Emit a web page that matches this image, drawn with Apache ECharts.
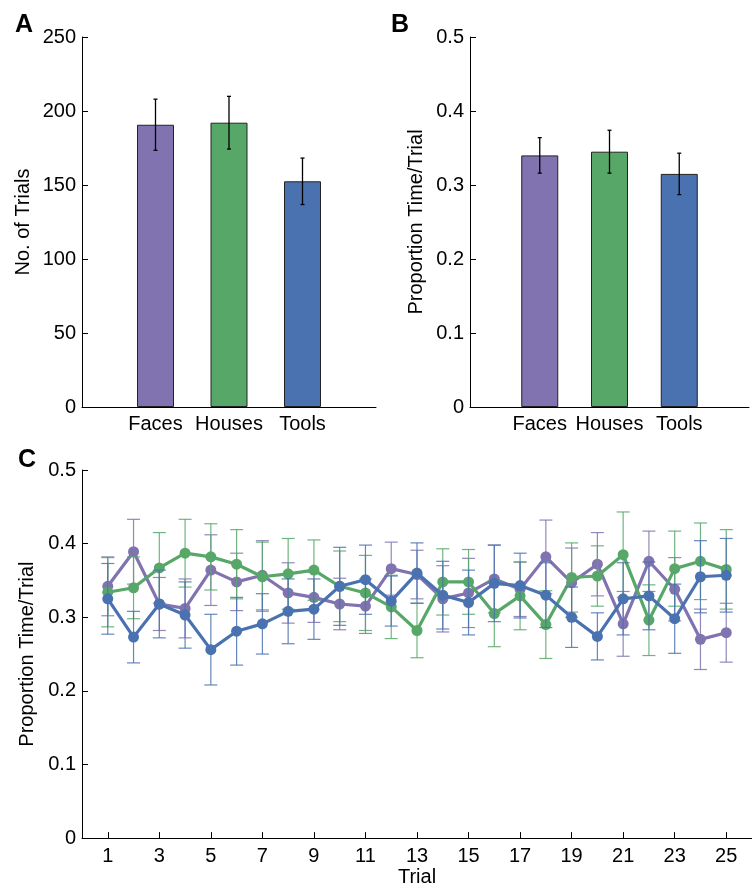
<!DOCTYPE html>
<html>
<head>
<meta charset="utf-8">
<script src="https://cdn.jsdelivr.net/npm/echarts@6/dist/echarts.min.js"></script>
<style>
  html, body { margin: 0; padding: 0; background: #fff; }
  #chart { width: 752px; height: 888px; }
</style>
</head>
<body>
<div id="chart"></div>
<script>
// categories
const categories = ['Faces', 'Houses', 'Tools'];
const catColors = ['#8073af', '#57a868', '#4a72b0'];

// panel A: number of trials
const countMean = [190.7, 192.1, 152.5];
const countErr = [17.3, 17.8, 15.7];

// panel B: proportion time/trial
const propMean = [0.340, 0.345, 0.315];
const propErr = [0.024, 0.029, 0.028];

// panel C: per trial
const trials = [1, 2, 3, 4, 5, 6, 7, 8, 9, 10, 11, 12, 13, 14, 15, 16, 17, 18, 19, 20, 21, 22, 23, 24, 25];
const facesMean = [0.342, 0.389, 0.318, 0.312, 0.364, 0.348, 0.357, 0.333, 0.327, 0.318, 0.315, 0.366, 0.358, 0.325, 0.333, 0.352, 0.338, 0.382, 0.347, 0.372, 0.291, 0.376, 0.338, 0.270, 0.279];
const facesErr = [0.040, 0.044, 0.036, 0.040, 0.048, 0.039, 0.047, 0.041, 0.034, 0.035, 0.037, 0.036, 0.033, 0.045, 0.047, 0.046, 0.037, 0.050, 0.047, 0.043, 0.044, 0.041, 0.043, 0.041, 0.040];
const housesMean = [0.334, 0.340, 0.367, 0.387, 0.382, 0.372, 0.355, 0.359, 0.364, 0.342, 0.333, 0.314, 0.282, 0.348, 0.348, 0.305, 0.329, 0.290, 0.354, 0.356, 0.385, 0.296, 0.366, 0.376, 0.365];
const housesErr = [0.047, 0.042, 0.048, 0.046, 0.045, 0.047, 0.047, 0.048, 0.041, 0.048, 0.051, 0.043, 0.037, 0.045, 0.044, 0.045, 0.046, 0.046, 0.047, 0.041, 0.058, 0.048, 0.051, 0.052, 0.054];
const toolsMean = [0.325, 0.273, 0.318, 0.303, 0.256, 0.281, 0.291, 0.308, 0.311, 0.342, 0.351, 0.322, 0.360, 0.330, 0.320, 0.346, 0.343, 0.330, 0.300, 0.274, 0.325, 0.329, 0.298, 0.355, 0.357];
const toolsErr = [0.048, 0.035, 0.046, 0.045, 0.048, 0.046, 0.041, 0.044, 0.041, 0.053, 0.047, 0.034, 0.041, 0.046, 0.044, 0.052, 0.044, 0.044, 0.041, 0.032, 0.049, 0.046, 0.047, 0.049, 0.050];

const trialTicks = trials.filter(t => t % 2 === 1);
const FONT = 'Liberation Sans';
const FS = 20;

const chart = echarts.init(document.getElementById('chart'));

// error bar drawing: value = [x, low, high]
function errorBar(capHalf, color, width, opacity) {
  return function (params, api) {
    const x = api.value(0);
    const lo = api.coord([x, api.value(1)]);
    const hi = api.coord([x, api.value(2)]);
    const style = { stroke: color, lineWidth: width, opacity: opacity };
    return {
      type: 'group',
      children: [
        { type: 'line', shape: { x1: lo[0], y1: lo[1], x2: hi[0], y2: hi[1] }, style: style },
        { type: 'line', shape: { x1: hi[0] - capHalf, y1: hi[1], x2: hi[0] + capHalf, y2: hi[1] }, style: style },
        { type: 'line', shape: { x1: lo[0] - capHalf, y1: lo[1], x2: lo[0] + capHalf, y2: lo[1] }, style: style }
      ]
    };
  };
}

function barData(means) {
  return means.map((v, i) => ({ value: [i + 1, v], itemStyle: { color: catColors[i] } }));
}
function errData(xs, means, errs) {
  return means.map((v, i) => [xs[i], v - errs[i], v + errs[i]]);
}

const axisLineStyle = { show: true, lineStyle: { color: '#000', width: 1 } };
const labelStyle = { color: '#000', fontFamily: FONT, fontSize: FS };
const nameStyle = { color: '#000', fontFamily: FONT, fontSize: FS };

function catXAxis(gridIndex) {
  return {
    gridIndex: gridIndex, type: 'value', min: 0, max: 4, interval: 1,
    axisLine: axisLineStyle, axisTick: { show: false }, splitLine: { show: false },
    axisLabel: Object.assign({}, labelStyle, {
      margin: 7,
      formatter: v => categories[v - 1] || ''
    })
  };
}
function valYAxis(gridIndex, max, interval, name, nameGap) {
  return {
    gridIndex: gridIndex, type: 'value', min: 0, max: max, interval: interval,
    name: name, nameLocation: 'middle', nameGap: nameGap,
    nameTextStyle: nameStyle,
    axisLine: axisLineStyle,
    axisTick: { show: true, inside: true, length: 6, lineStyle: { color: '#000' } },
    splitLine: { show: false },
    axisLabel: Object.assign({}, labelStyle, { margin: 6 })
  };
}

const lineSeries = [
  { name: 'Faces', mean: facesMean, err: facesErr, color: catColors[0] },
  { name: 'Houses', mean: housesMean, err: housesErr, color: catColors[1] },
  { name: 'Tools', mean: toolsMean, err: toolsErr, color: catColors[2] }
];

const series = [
  // panel A
  { type: 'bar', xAxisIndex: 0, yAxisIndex: 0, barWidth: 37, data: barData(countMean),
    itemStyle: { borderColor: '#222', borderWidth: 1 } },
  { type: 'custom', xAxisIndex: 0, yAxisIndex: 0, z: 5,
    renderItem: errorBar(2, '#000', 1.3, 1), data: errData([1, 2, 3], countMean, countErr) },
  // panel B
  { type: 'bar', xAxisIndex: 1, yAxisIndex: 1, barWidth: 37, data: barData(propMean),
    itemStyle: { borderColor: '#222', borderWidth: 1 } },
  { type: 'custom', xAxisIndex: 1, yAxisIndex: 1, z: 5,
    renderItem: errorBar(2, '#000', 1.3, 1), data: errData([1, 2, 3], propMean, propErr) }
];

// panel C
lineSeries.forEach((s, k) => {
  series.push({
    type: 'custom', xAxisIndex: 2, yAxisIndex: 2, z: 2 + k * 2,
    renderItem: errorBar(6.5, s.color, 1.2, 0.85),
    data: errData(trials, s.mean, s.err)
  });
  series.push({
    name: s.name, type: 'line', xAxisIndex: 2, yAxisIndex: 2, z: 3 + k * 2,
    data: trials.map((t, i) => [t, s.mean[i]]),
    symbol: 'circle', symbolSize: 11,
    lineStyle: { color: s.color, width: 3.2 },
    itemStyle: { color: s.color }
  });
});

const option = {
  animation: false,
  backgroundColor: '#fff',
  title: [
    { text: 'A', left: 10, top: 8, textStyle: { fontFamily: FONT, fontSize: 25, fontWeight: 'bold', color: '#000' } },
    { text: 'B', left: 386, top: 8, textStyle: { fontFamily: FONT, fontSize: 25, fontWeight: 'bold', color: '#000' } },
    { text: 'C', left: 13, top: 443, textStyle: { fontFamily: FONT, fontSize: 25, fontWeight: 'bold', color: '#000' } }
  ],
  grid: [
    { left: 82, right: 376, top: 37, bottom: 481 },
    { left: 470, right: -12, top: 37, bottom: 481 },
    { left: 82, right: -11, top: 470, bottom: 48 }
  ],
  xAxis: [
    catXAxis(0),
    catXAxis(1),
    {
      gridIndex: 2, type: 'value', min: 0, max: 26, interval: 1,
      name: 'Trial', nameLocation: 'middle', nameGap: 28,
      nameTextStyle: nameStyle,
      axisLine: axisLineStyle,
      axisTick: { show: true, inside: true, length: 6, customValues: trialTicks, lineStyle: { color: '#000' } },
      splitLine: { show: false },
      axisLabel: Object.assign({}, labelStyle, { margin: 8, customValues: trialTicks })
    }
  ],
  yAxis: [
    valYAxis(0, 250, 50, 'No. of Trials', 49),
    valYAxis(1, 0.5, 0.1, 'Proportion Time/Trial', 44),
    valYAxis(2, 0.5, 0.1, 'Proportion Time/Trial', 44)
  ],
  series: series
};

chart.setOption(option);
</script>
</body>
</html>
